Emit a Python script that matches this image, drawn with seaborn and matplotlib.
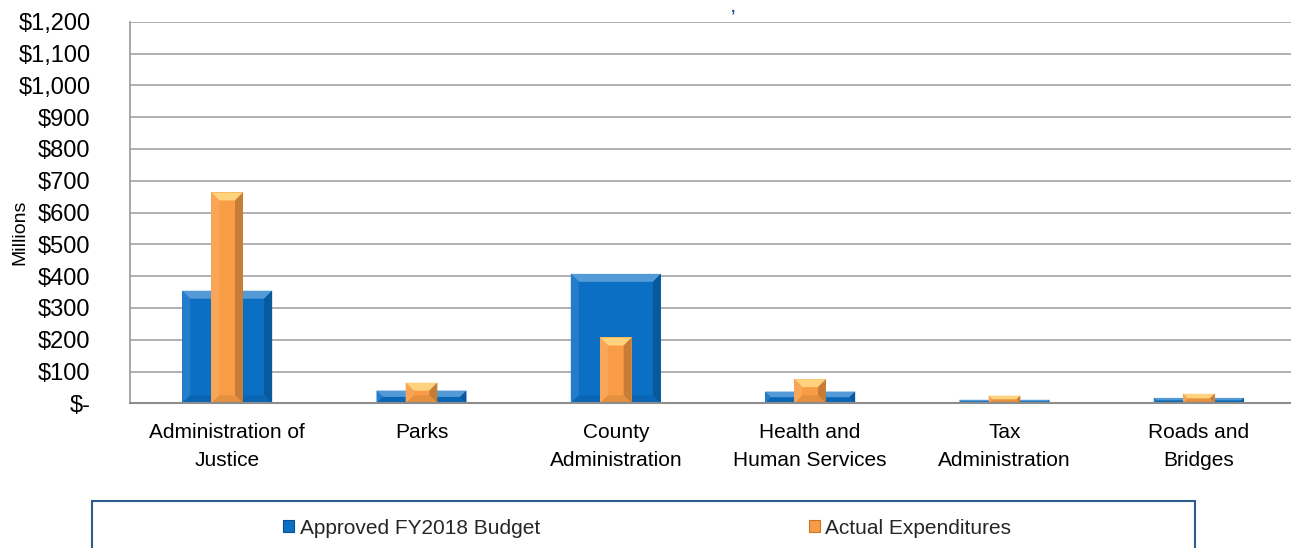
import matplotlib
matplotlib.use("Agg")
import matplotlib.pyplot as plt
import seaborn as sns
import pandas as pd
import numpy as np
from matplotlib.patches import Polygon, Rectangle, Patch
from matplotlib.ticker import FuncFormatter, MultipleLocator
import matplotlib.colors as mcolors

# ---- data ----
categories = ["Administration of\nJustice", "Parks", "County\nAdministration",
              "Health and\nHuman Services", "Tax\nAdministration", "Roads and\nBridges"]
budget = [354, 40, 407, 37, 11, 17]
actual = [663, 65, 207, 76, 24, 30]
series_names = ["Approved FY2018 Budget", "Actual Expenditures"]

BLUE = "#0B6FC4"
ORANGE = "#F89C45"

df = pd.DataFrame({"category": categories, "budget": budget, "actual": actual})

sns.set_theme(style="white")
plt.rcParams["font.family"] = ["Liberation Sans", "DejaVu Sans"]

W, H = 1291, 548
fig = plt.figure(figsize=(W / 100, H / 100), dpi=100)
ax = fig.add_axes([130 / W, 1 - 403.3 / H, (1296 - 130) / W, (403.3 - 21.7) / H])

sns.barplot(data=df, x="category", y="budget", color=BLUE, saturation=1,
            width=0.463, ax=ax, label=series_names[0], zorder=2, linewidth=0)
n_blue = len(ax.patches)
sns.barplot(data=df, x="category", y="actual", color=ORANGE, saturation=1,
            width=0.163, ax=ax, label=series_names[1], zorder=3, linewidth=0)

ax.set_ylim(0, 1200)
ax.set_xlim(-0.5, len(categories) - 0.5)
ax.yaxis.set_major_locator(MultipleLocator(100))
ax.yaxis.set_major_formatter(FuncFormatter(lambda v, p: "$-" if v == 0 else f"${v:,.0f}"))
ax.grid(axis="y", color="#A3A3A3", linewidth=1.2, zorder=0)
ax.set_axisbelow(True)
ax.tick_params(axis="y", length=0, pad=28.5, labelsize=17, colors="black")
ax.tick_params(axis="x", length=0, pad=14.5, labelsize=15, colors="black")
for t in ax.get_xticklabels():
    t.set_linespacing(1.55)
ax.set_xlabel("")
ax.set_ylabel("Millions", fontsize=14, color="black")
ax.yaxis.label.set_va("center")
ax.yaxis.set_label_coords((19.5 - 130) / 1166, (403.3 - 232.5) / 381.6)
for s in ["top", "right"]:
    ax.spines[s].set_visible(False)
ax.spines["left"].set_color("#9A9A9A")
ax.spines["left"].set_linewidth(1.2)
ax.spines["bottom"].set_color("#8C8C8C")
ax.spines["bottom"].set_linewidth(1.5)
ax.spines["bottom"].set_zorder(5)
if ax.get_legend() is not None:
    ax.get_legend().remove()


def shade(c, f):
    r, g, b = mcolors.to_rgb(c)
    if f >= 0:
        return (r + (1 - r) * f, g + (1 - g) * f, b + (1 - b) * f)
    return (r * (1 + f), g * (1 + f), b * (1 + f))


# ---- bevel effect derived from the bar patches ----
fig.canvas.draw()
inv = ax.transData.inverted()
for i, p in enumerate(list(ax.patches)):
    base = BLUE if i < n_blue else ORANGE
    z = p.get_zorder() + 0.05
    bb = p.get_window_extent()
    x0, y0, x1, y1 = bb.x0, bb.y0, bb.x1, bb.y1
    d = min(8.0, (x1 - x0) / 2, (y1 - y0) / 2)
    polys = [
        ([(x0, y1), (x1, y1), (x1 - d, y1 - d), (x0 + d, y1 - d)], shade(base, 0.3) if base == BLUE else "#FFD27E"),
        ([(x0, y0), (x0, y1), (x0 + d, y1 - d), (x0 + d, y0 + d)], shade(base, 0.1)),
        ([(x1, y0), (x1, y1), (x1 - d, y1 - d), (x1 - d, y0 + d)], shade(base, -0.2)),
        ([(x0, y0), (x1, y0), (x1 - d, y0 + d), (x0 + d, y0 + d)], shade(base, -0.08)),
    ]
    for pts, col in polys:
        data_pts = inv.transform(np.array(pts))
        ax.add_patch(Polygon(data_pts, closed=True, facecolor=col, edgecolor="none", zorder=z))

# ---- title fragment (cut off in the reference) ----
fig.text(733 / W, 1.0, ",", color="#1F4E8C", fontsize=11, ha="center", va="top",
         fontweight="bold")

# ---- legend ----
leg_box = Rectangle((92 / W, -0.2), (1195 - 92) / W, (0.2 + 1 - 500.5 / H),
                    transform=fig.transFigure, facecolor="white", edgecolor="#2F5A8E",
                    linewidth=1.5, zorder=0)
fig.patches.append(leg_box)
handles = [Patch(facecolor=BLUE, edgecolor="#0A4F8F", linewidth=0.8),
           Patch(facecolor=ORANGE, edgecolor="#C8722A", linewidth=0.8)]
fig.legend(handles, series_names, loc="center", bbox_to_anchor=(647 / W, 1 - 528 / H),
           ncol=2, frameon=False, fontsize=15, handlelength=0.55, handleheight=0.55,
           handletextpad=0.25, columnspacing=12.9, borderpad=0)

fig.savefig("out.png", dpi=100)
